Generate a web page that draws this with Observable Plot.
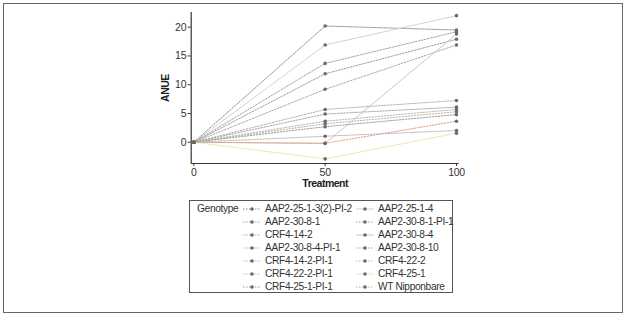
<!DOCTYPE html>
<html><head><meta charset="utf-8">
<script src="https://cdn.jsdelivr.net/npm/d3@7"></script>
<script src="https://cdn.jsdelivr.net/npm/@observablehq/plot@0.6"></script>
<style>
body{margin:0;background:#fff;}
#wrap{position:relative;width:627px;height:316px;background:#fff;font-family:"Liberation Sans Narrow","Arial Narrow","Liberation Sans",Arial,sans-serif;}
#frame{position:absolute;left:3px;top:3px;width:618px;height:308px;border:1.5px solid #666;}
#chart{position:absolute;left:0;top:0;}
#legend{position:absolute;left:189px;top:200px;width:262px;height:91px;border:1px solid #555;font-size:10.2px;letter-spacing:-0.35px;color:#333;}
#chart svg text{letter-spacing:-0.3px;}
#chart svg [aria-label="y-axis label"] text,#chart svg [aria-label="x-axis label"] text{font-weight:bold;fill:#222;letter-spacing:-0.5px;}
.lg{position:absolute;white-space:nowrap;line-height:12px;}
</style></head>
<body><div id="wrap"><div id="frame"></div><div id="chart"></div><div id="legend"></div></div>
<script>
const genotypes = ["AAP2-25-1-3(2)-PI-2","AAP2-25-1-4","AAP2-30-8-1","AAP2-30-8-1-PI-1","CRF4-14-2","AAP2-30-8-4","AAP2-30-8-4-PI-1","AAP2-30-8-10","CRF4-14-2-PI-1","CRF4-22-2","CRF4-22-2-PI-1","CRF4-25-1","CRF4-25-1-PI-1","WT Nipponbare"];
const treatments = [0, 50, 100];
const anue0   = [0,0,0,0,0,0,0,0,0,0,0,0,0,0];
const anue50  = [20.2,16.9,13.7,11.9,9.2,-0.2,5.7,4.9,-0.2,3.65,3.2,-2.9,2.7,1.04];
const anue100 = [19.5,22.0,19.2,17.9,16.9,18.8,7.25,6.1,3.65,5.7,5.3,1.57,4.8,2.03];
const colors  = ["#8a8a8a","#d2d2d2","#a0a0a0","#9a9a9a","#a8a8a8","#c8c8c8","#b0b0b0","#a5a5a5","#dfa184","#b8b8b8","#c8b7a8","#eee6b8","#9c9c9c","#b4b4b4"];
const dashes  = ["1.5,1.5","","1.5,1.5","1.5,1.5","1.5,1.5","","1.5,1.5","1.5,1.5","1.5,1.5","1.5,1.5","1.5,1.5","","1.5,1.5","1.5,1.5"];
const xTicks = [0, 50, 100];
const yTicks = [0, 5, 10, 15, 20];
const xDomain = [-1, 101];
const yDomain = [-3.7, 22.55];

const rows = [];
genotypes.forEach((g, i) => {
  [anue0[i], anue50[i], anue100[i]].forEach((v, j) => rows.push({genotype: g, treatment: treatments[j], anue: v, idx: i}));
});

const marks = [];
genotypes.forEach((g, i) => {
  marks.push(Plot.line(rows.filter(d => d.idx === i), {x: "treatment", y: "anue", stroke: colors[i], strokeWidth: 1, strokeDasharray: dashes[i] || null}));
});
marks.push(Plot.dot(rows, {x: "treatment", y: "anue", r: 1.8, fill: "#6a6a6a", stroke: "none"}));
marks.push(Plot.ruleX([xDomain[0]], {stroke: "#333", strokeWidth: 1.2}));
marks.push(Plot.ruleY([yDomain[0]], {stroke: "#333", strokeWidth: 1.2}));
marks.push(Plot.axisX(xTicks, {label: "Treatment", labelAnchor: "center", labelArrow: "none", labelOffset: 23, tickSize: 3, tickPadding: 2, fontSize: 10.5, color: "#333"}));
marks.push(Plot.axisY(yTicks, {label: "ANUE", labelAnchor: "center", labelArrow: "none", labelOffset: 30, tickSize: 3, tickPadding: 2, fontSize: 10.5, color: "#333"}));

const chart = Plot.plot({
  width: 627, height: 190,
  marginLeft: 190.7, marginRight: 168.4, marginTop: 12, marginBottom: 27,
  x: {domain: xDomain},
  y: {domain: yDomain},
  style: {fontFamily: '"Liberation Sans Narrow","Arial Narrow","Liberation Sans",Arial,sans-serif', fontSize: "10.5px", color: "#333", background: "transparent"},
  marks
});
document.getElementById("chart").appendChild(chart);

const leg = document.getElementById("legend");
const t = document.createElement("div");
t.className = "lg"; t.textContent = "Genotype";
t.style.left = "7px"; t.style.top = "2px";
leg.appendChild(t);
genotypes.forEach((g, i) => {
  const col = i % 2, row = Math.floor(i / 2);
  const x0 = col === 0 ? 53 : 166;
  const y0 = 2 + row * 13;
  const sym = document.createElementNS("http://www.w3.org/2000/svg", "svg");
  sym.setAttribute("width", 18); sym.setAttribute("height", 12);
  sym.style.position = "absolute"; sym.style.left = x0 + "px"; sym.style.top = y0 + "px";
  sym.innerHTML = `<line x1="0" x2="18" y1="6" y2="6" stroke="${colors[i]}" stroke-width="1" ${dashes[i] ? `stroke-dasharray="${dashes[i]}"` : ""}/><circle cx="9" cy="6" r="1.8" fill="#6a6a6a"/>`;
  leg.appendChild(sym);
  const lab = document.createElement("div");
  lab.className = "lg"; lab.textContent = g;
  lab.style.left = (x0 + 22) + "px"; lab.style.top = y0 + "px";
  leg.appendChild(lab);
});
</script></body></html>
